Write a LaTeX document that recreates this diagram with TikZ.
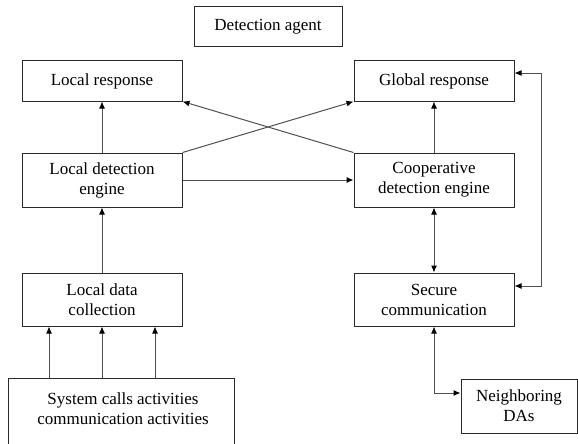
\documentclass[tikz,border=0pt]{standalone}
\usepackage{fontspec}
\setmainfont{Liberation Serif}
\usetikzlibrary{arrows.meta}
\definecolor{edgec}{HTML}{2A2A2A}
\definecolor{linec}{HTML}{505050}
\begin{document}
\begin{tikzpicture}[x=1pt,y=-1pt,
  box/.style={draw=edgec,line width=1pt,fill=white,align=center,inner sep=0pt,
    font=\fontsize{17}{20}\selectfont,minimum width=160pt,minimum height=54pt},
  tip/.style={Latex[length=7pt,width=6pt,black]},
  arr/.style={draw=linec,line width=1pt,-{Latex[length=7pt,width=6pt,black]}},
  barr/.style={draw=linec,line width=1pt,{Latex[length=7pt,width=6pt,black]}-{Latex[length=7pt,width=6pt,black]}}]
\useasboundingbox (0,0) rectangle (578,444);
\clip (0,0) rectangle (578,444);
\node[box,minimum width=148pt,minimum height=40pt] (agent) at (268,27) {Detection agent};
\node[box,minimum height=40pt] (lresp) at (102,81) {Local response};
\node[box,minimum height=40pt] (gresp) at (434,81) {Global response};
\node[box] (ldet) at (102,180) {Local detection\\engine};
\node[box] (coop) at (434,180) {Cooperative\\detection engine};
\node[box,minimum height=53pt] (ldata) at (102,299.5) {Local data\\collection};
\node[box,minimum height=53pt] (secure) at (434,299.5) {Secure\\communication};
\node[box,minimum width=226pt,minimum height=90pt,anchor=north west] (sys) at (8,378) {};
\node[align=center,font=\fontsize{17}{20}\selectfont] (systext) at (123,409) {System calls activities\\communication activities};
\node[box,minimum width=116pt,minimum height=54pt] (neigh) at (519,406) {Neighboring\\DAs};
% arrows
\draw[arr] (ldata) -- (ldet);
\draw[arr] (ldet) -- (lresp);
\draw[arr] (coop) -- (gresp);
\draw[barr] (coop) -- (secure);
\draw[arr] (ldet) -- (coop);
\draw[arr] (ldet.north east) -- (gresp.south west);
\draw[arr] (coop.north west) -- (lresp.south east);
\draw[arr] ([xshift=-53pt]ldata.south |- sys.north) -- ([xshift=-53pt]ldata.south);
\draw[arr] (ldata.south |- sys.north) -- (ldata.south);
\draw[arr] ([xshift=53pt]ldata.south |- sys.north) -- ([xshift=53pt]ldata.south);
\draw[barr] ([yshift=8pt]gresp.east) -- ++(27,0) |- ([yshift=13.5pt]secure.east);
\draw[barr] (secure.south) |- ([yshift=13pt]neigh.west);
\end{tikzpicture}
\end{document}
